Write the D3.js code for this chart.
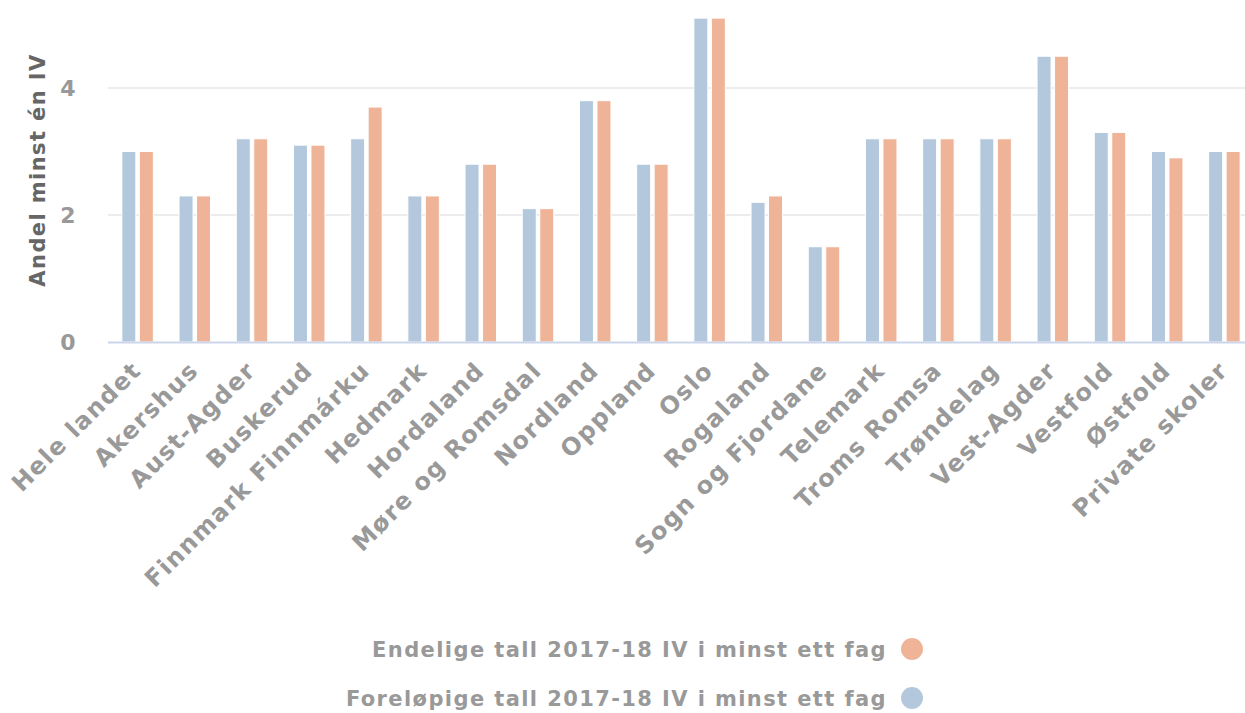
<!DOCTYPE html>
<html>
<head>
<meta charset="utf-8">
<script src="https://cdn.jsdelivr.net/npm/d3@7"></script>
<style>
  body { margin: 0; background: #fff; }
  text { font-family: "DejaVu Sans", sans-serif; font-weight: bold; letter-spacing: 1.4px; }
</style>
</head>
<body>
<div class="canvas"></div>
<script>
'use strict';
var categories = ["Hele landet", "Akershus", "Aust-Agder", "Buskerud", "Finnmark Finnmárku", "Hedmark",
    "Hordaland", "Møre og Romsdal", "Nordland", "Oppland", "Oslo", "Rogaland", "Sogn og Fjordane",
    "Telemark", "Troms Romsa", "Trøndelag", "Vest-Agder", "Vestfold", "Østfold", "Private skoler"]
var forelopige = [3.0, 2.3, 3.2, 3.1, 3.2, 2.3, 2.8, 2.1, 3.8, 2.8, 5.1, 2.2, 1.5, 3.2, 3.2, 3.2, 4.5, 3.3, 3.0, 3.0]
var endelige = [3.0, 2.3, 3.2, 3.1, 3.7, 2.3, 2.8, 2.1, 3.8, 2.8, 5.1, 2.3, 1.5, 3.2, 3.2, 3.2, 4.5, 3.3, 2.9, 3.0]
var seriesNames = ["Foreløpige tall 2017-18 IV i minst ett fag", "Endelige tall 2017-18 IV i minst ett fag"]
var yTicks = [0, 2, 4]

var W = 1245, H = 713
var BLUE = "#b3c8dc", ORANGE = "#efb497"

var svg = d3.select(".canvas").append("svg")
    .attr("width", W)
    .attr("height", H)

var xScale = d3.scaleBand()
    .domain(categories)
    .range([109, 1253])

var yScale = d3.scaleLinear()
    .domain([0, 5.228])
    .range([342, 10])

// grid
svg.append("g").selectAll("line")
    .data(yTicks.filter(d => d > 0))
    .enter().append("line")
    .attr("x1", 108).attr("x2", W)
    .attr("y1", d => yScale(d)).attr("y2", d => yScale(d))
    .attr("stroke", "#e6e6e6").attr("stroke-width", 1.5)

// y labels
svg.append("g").selectAll("text")
    .data(yTicks)
    .enter().append("text")
    .attr("x", 77)
    .attr("y", d => yScale(d) + 8)
    .attr("text-anchor", "end")
    .attr("fill", "#999")
    .attr("font-size", 22)
    .text(d => d)

svg.append("text")
    .attr("transform", "translate(45,170) rotate(-90)")
    .attr("text-anchor", "middle")
    .attr("fill", "#666")
    .attr("font-size", 21)
    .text("Andel minst én IV")

var seriesData = [forelopige, endelige]
var colors = [BLUE, ORANGE]
var offsets = [-8.75, 8.75]

for (let s = 0; s < 2; s++) {
    svg.append("g").selectAll("rect")
        .data(seriesData[s])
        .enter().append("rect")
        .attr("x", (d, i) => xScale(categories[i]) + xScale.bandwidth() / 2 + offsets[s] - 7)
        .attr("y", d => yScale(d))
        .attr("width", 14)
        .attr("height", d => yScale(0) - yScale(d))
        .attr("fill", colors[s])
        .attr("stroke", "#fff")
        .attr("stroke-width", 1)
}

// baseline
svg.append("line")
    .attr("x1", 108).attr("x2", W)
    .attr("y1", yScale(0) + 0.5).attr("y2", yScale(0) + 0.5)
    .attr("stroke", "#ccd6eb").attr("stroke-width", 2)

// x labels
svg.append("g").selectAll("text")
    .data(categories)
    .enter().append("text")
    .attr("transform", d => "translate(" + (xScale(d) + xScale.bandwidth() / 2 + 5) + ",372) rotate(-45)")
    .attr("text-anchor", "end")
    .attr("fill", "#999")
    .attr("font-size", 24)
    .attr("letter-spacing", 1.6)
    .text(d => d)

// legend
var legendItems = [
    { name: seriesNames[1], color: ORANGE, y: 649 },
    { name: seriesNames[0], color: BLUE, y: 698 }
]
var lg = svg.append("g").selectAll("g")
    .data(legendItems)
    .enter().append("g")
lg.append("text")
    .attr("x", 887)
    .attr("y", d => d.y + 8)
    .attr("text-anchor", "end")
    .attr("fill", "#999")
    .attr("font-size", 21)
    .text(d => d.name)
lg.append("circle")
    .attr("cx", 912)
    .attr("cy", d => d.y)
    .attr("r", 11)
    .attr("fill", d => d.color)
</script>
</body>
</html>
